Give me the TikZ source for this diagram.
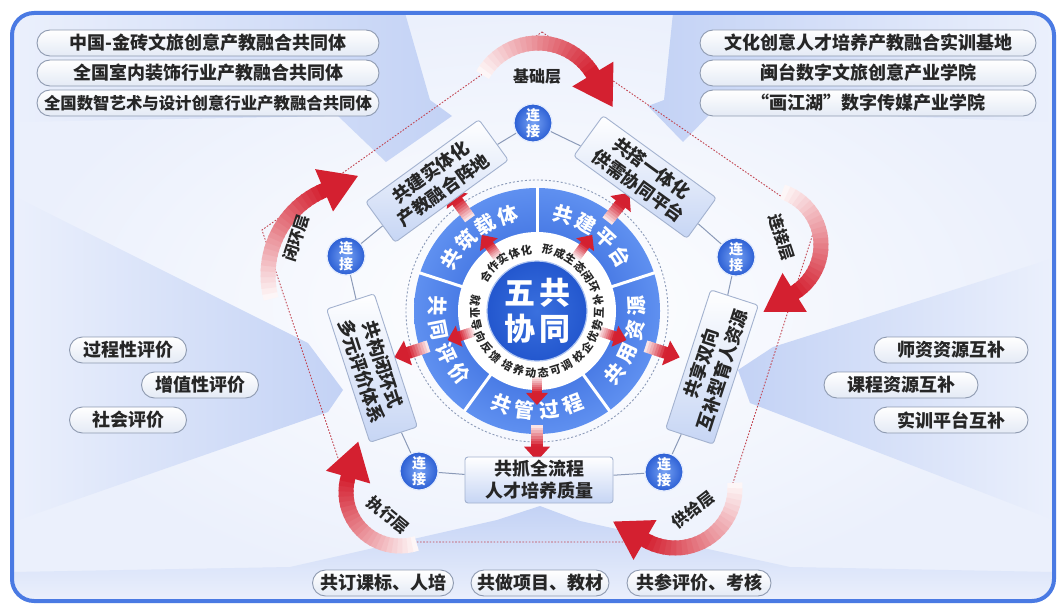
\documentclass[tikz,border=0pt]{standalone}
\usepackage{fontspec}
\setmainfont{Noto Sans CJK SC}
\usetikzlibrary{calc,shapes.misc,positioning}

\definecolor{frameblue}{HTML}{4A7AE3}
\definecolor{lav}{HTML}{C3D2F5}
\definecolor{lavlight}{HTML}{EBF0FC}
\definecolor{ringin}{HTML}{2558D3}
\definecolor{ringout}{HTML}{5F90F0}
\definecolor{corein}{HTML}{3A70DE}
\definecolor{coreout}{HTML}{2357CE}
\definecolor{arrowred}{HTML}{D42030}
\definecolor{dotred}{HTML}{C24450}
\definecolor{textdark}{HTML}{262626}
\definecolor{pillgray}{HTML}{8E9AB0}
\definecolor{pillfill}{HTML}{E4EAF5}
\definecolor{boxedge}{HTML}{A3B2CF}
\definecolor{boxfill}{HTML}{C6D5F4}
\definecolor{linkgray}{HTML}{8B9AB8}
\definecolor{linkin}{HTML}{77A2F4}
\definecolor{linkout}{HTML}{2C5FD4}

\newcommand\fpill{\fontsize{18}{20}\selectfont\bfseries}
\newcommand\fkbox{\fontsize{18}{22}\selectfont\bfseries}
\newcommand\flink{\fontsize{14}{16}\selectfont\bfseries}
\newcommand\fseg{\fontsize{20}{20}\selectfont\bfseries}
\newcommand\fring{\fontsize{11}{11}\selectfont\bfseries}
\newcommand\fcore{\fontsize{31}{36}\selectfont\bfseries}
\newcommand\flayer{\fontsize{16}{16}\selectfont\bfseries}

% block arrow pointing out of the centre C
\newcommand\radarrow[5]{% angle, r from, r to, shaft half, head half
  \begin{scope}[shift={(C)}, rotate=#1]
    \pgfmathsetmacro\hlen{1.1*#5}
    \pgfmathsetmacro\hbase{#3-\hlen}
    \foreach \k in {0,...,7}{%
      \pgfmathsetmacro\xa{#2+(\hbase-#2)*\k/8}%
      \pgfmathsetmacro\xb{#2+(\hbase-#2)*(\k+1.4)/8}%
      \pgfmathtruncatemacro\pc{12+86*\k/7}%
      \fill[arrowred!\pc!white] (\xa,-#4) rectangle (\xb,#4);
    }
    \fill[arrowred] (\hbase,-#5) -- (#3,0) -- (\hbase,#5) -- cycle;
  \end{scope}}

% curved layer arrow, clockwise
\newcommand\layerarrow[7]{% cx, cy, radius, start, end, width, head half
  \begin{scope}[shift={(#1,#2)}]
    \foreach \k in {0,...,23}{%
      \pgfmathsetmacro\aa{#4+(#5-#4)*\k/24}%
      \pgfmathsetmacro\ab{#4+(#5-#4)*(\k+1.35)/24}%
      \pgfmathtruncatemacro\pc{4+96*\k/23}%
      \draw[arrowred!\pc!white, line width=#6pt] (\aa:#3) arc[start angle=\aa, end angle=\ab, radius=#3];
    }
  \end{scope}
  \begin{scope}[shift={(#1,#2)}, rotate=#5]
    \fill[arrowred] (#3-#7,0) -- (#3+#7,0) -- (#3,-1.6*#7) -- cycle;
  \end{scope}}

% characters set one by one round C
\newcommand\ringtext[6]{% style, radius, start, step, rotation offset, list
  \foreach \ch [count=\i from 0] in {#6}{%
    \pgfmathsetmacro\ang{#3+#4*\i}%
    \node[#1, rotate=\ang+#5] at ($(C)+(\ang:#2)$) {\ch};
  }}

\pgfdeclarelayer{back}
\pgfdeclarelayer{mid}
\pgfsetlayers{back,mid,main}

\begin{document}
\begin{tikzpicture}[
  x=1pt, y=1pt,
  every node/.style={text=textdark},
  pill/.style={rounded rectangle, draw=pillgray, line width=0.9pt, top color=white,
    bottom color=pillfill, font=\fpill, minimum height=26pt, inner ysep=0pt, inner xsep=4pt},
  kbox/.style={rectangle, rounded corners=3pt, draw=boxedge, line width=0.9pt, top color=white,
    bottom color=boxfill, font=\fkbox, align=center, minimum width=140pt, minimum height=50pt, inner sep=2pt},
  lianjie/.style={circle, draw=white!80!linkin, line width=1.2pt, inner color=linkin, outer color=linkout,
    minimum size=38pt, inner sep=0pt, text=white, font=\flink, align=center},
  segtext/.style={text=white, font=\fseg, inner sep=0pt},
  ringtxt/.style={text=textdark, font=\fring, inner sep=0pt},
  layerlab/.style={font=\flayer, text=textdark, inner sep=0pt},
  linkline/.style={draw=linkgray, line width=1pt},
  reddot/.style={draw=dotred, line width=0.9pt, dash pattern=on 1.6pt off 1.6pt},
]
\useasboundingbox (0,0) rectangle (1059,-604);
\coordinate (C) at (537,-311);

%--- frame and light fans
\begin{pgfonlayer}{back}
  \shade[inner color=white, outer color=lavlight, rounded corners=22pt] (12,-13) rectangle (1054,-601);
  \begin{scope}
    \clip[rounded corners=22pt] (12,-13) rectangle (1054,-601);
    \shade[left color=lavlight, right color=lav] (12,-13) -- (405,-13) -- (430,-100) -- (452,-116)
      -- (386,-162) -- (338,-116) -- (12,-122) -- cycle;
    \shade[left color=lav, right color=lavlight] (1054,-13) -- (673,-13) -- (664,-100) -- (648,-106)
      -- (683,-142) -- (714,-110) -- (1054,-122) -- cycle;
    \shade[left color=lavlight, right color=lav] (12,-195) -- (308,-343) -- (343,-390) -- (328,-412)
      -- (12,-522) -- cycle;
    \shade[left color=lav, right color=lavlight] (1054,-258) -- (773,-347) -- (738,-370) -- (750,-403)
      -- (1054,-520) -- cycle;
    \shade[top color=lav, bottom color=lavlight] (497,-520) -- (540,-506) -- (580,-521) -- (790,-567)
      -- (1054,-572) -- (1054,-601) -- (12,-601) -- (12,-572) -- (290,-567) -- cycle;
  \end{scope}
  \draw[frameblue, line width=4pt, rounded corners=22pt] (12,-13) rectangle (1054,-601);
\end{pgfonlayer}

%--- dotted pentagon and layer arrows
\begin{pgfonlayer}{mid}
  \coordinate (p1) at (542,-32);
  \coordinate (p2) at (817,-221);
  \coordinate (p3) at (714,-542);
  \coordinate (p4) at (366,-542);
  \coordinate (p5) at (262,-230);
  \draw[reddot] (p1) -- (p2) -- (p3) -- (p4) -- (p5) -- cycle;

  \layerarrow{538}{-107}{64}{150}{31}{15}{24}
  \layerarrow{765}{-245}{56}{72}{-58}{15}{23}
  \layerarrow{675}{-488}{60}{5}{-120}{15}{23}
  \layerarrow{400}{-492}{54}{-72}{-196}{15}{23}
  \layerarrow{360}{-275}{92}{195}{113}{15}{23}
\end{pgfonlayer}

%--- centre wheel
\draw[draw=linkgray, line width=0.9pt, dash pattern=on 2pt off 2pt] (C) circle (131);
\shade[inner color=ringin, outer color=ringout] (C) circle (123);
\fill[white] (C) circle (79);
\foreach \a in {90,18,-54,-126,162}
  \draw[white, line width=3pt] ($(C)+(\a:78)$) -- ($(C)+(\a:124)$);
\shade[inner color=corein, outer color=coreout] (C) circle (50);
\draw[white!60!corein, line width=1.2pt] (C) circle (50);
\node[text=white, font=\fcore, align=center] (core) at (C) {五\hspace{4pt}共\\协\hspace{4pt}同};

\foreach \a in {126,54,-18,-90,198}{\radarrow{\a}{66}{94}{5}{11}}

\ringtext{segtext}{100}{149}{-14}{-90}{共,筑,载,体}
\ringtext{segtext}{100}{75}{-14}{-90}{共,建,平,台}
\ringtext{segtext}{100}{-39}{14}{90}{共,用,资,源}
\ringtext{segtext}{100}{-111}{14}{90}{共,管,过,程}
\ringtext{segtext}{100}{177}{14}{90}{共,同,评,价}

\ringtext{ringtxt}{62}{146}{-11.5}{-90}{合,作,实,体,化}
\ringtext{ringtxt}{62}{80}{-11.5}{-90}{形,成,生,态,闭,环}
\ringtext{ringtxt}{62}{-47.5}{11.5}{90}{校,企,优,势,互,补}
\ringtext{ringtxt}{62}{-118.75}{11.5}{90}{培,养,动,态,可,调}
\ringtext{ringtxt}{62}{170}{11.5}{90}{就,业,导,向,反,馈}

\foreach \a in {126,52,-18,-90,198}{\radarrow{\a}{114}{150}{6}{13}}

%--- five boxes
\node[kbox, rotate=36]  (b1) at (437,-181) {共建实体化\\产教融合阵地};
\node[kbox, rotate=-36] (b2) at (645,-177) {共搭一体化\\供需协同平台};
\node[kbox, rotate=72, minimum width=146pt] (b3) at (712,-367) {共享双向\\互补型育人资源};
\node[kbox, minimum width=148pt, minimum height=46pt] (b4) at (539,-480) {共抓全流程\\人才培养质量};
\node[kbox, rotate=-72] (b5) at (372,-368) {共构闭环式\\多元评价体系};

%--- link balls
\node[lianjie] (l1) at (533,-123) {连\\接};
\node[lianjie] (l2) at (736,-257) {连\\接};
\node[lianjie] (l3) at (664,-472) {连\\接};
\node[lianjie] (l4) at (419,-471) {连\\接};
\node[lianjie] (l5) at (346,-256) {连\\接};

\begin{pgfonlayer}{mid}
  \draw[linkline] (l1) -- (b1);
  \draw[linkline] (l1) -- (b2);
  \draw[linkline] (l2) -- (b2);
  \draw[linkline] (l2) -- (b3);
  \draw[linkline] (l3) -- (b3);
  \draw[linkline] (l3) -- (b4);
  \draw[linkline] (l4) -- (b4);
  \draw[linkline] (l4) -- (b5);
  \draw[linkline] (l5) -- (b5);
  \draw[linkline] (l5) -- (b1);
\end{pgfonlayer}

%--- layer labels
\node[layerlab] (lyjc) at (537,-77) {基础层};
\node[layerlab, rotate=-72] (lylj) at (782,-237) {连接层};
\node[layerlab, rotate=38] (lygj) at (693,-510) {供给层};
\node[layerlab, rotate=-40] (lyzx) at (388,-515) {执行层};
\node[layerlab, rotate=72] (lybh) at (296,-238) {闭环层};

%--- pills
\node[pill, minimum width=350pt] (tl1) at (208,-43) {中国-金砖文旅创意产教融合共同体};
\node[pill, minimum width=350pt] (tl2) at (208,-73) {全国室内装饰行业产教融合共同体};
\node[pill, minimum width=350pt, font=\fontsize{16.4}{18}\selectfont\bfseries] (tl3) at (208,-103) {全国数智艺术与设计创意行业产教融合共同体};
\node[pill, minimum width=344pt] (tr1) at (868,-43) {文化创意人才培养产教融合实训基地};
\node[pill, minimum width=344pt] (tr2) at (868,-73) {闽台数字文旅创意产业学院};
\node[pill, minimum width=344pt] (tr3) at (868,-103) {“画江湖”数字传媒产业学院};

\node[pill, minimum width=125pt] (lf1) at (128,-350) {过程性评价};
\node[pill, minimum width=125pt] (lf2) at (200,-385) {增值性评价};
\node[pill, minimum width=125pt] (lf3) at (128,-420) {社会评价};

\node[pill, minimum width=162pt] (rt1) at (951,-350) {师资资源互补};
\node[pill, minimum width=162pt] (rt2) at (901,-385) {课程资源互补};
\node[pill, minimum width=162pt] (rt3) at (951,-420) {实训平台互补};

\node[pill, minimum width=149pt] (bt1) at (383,-583) {共订课标、人培};
\node[pill, minimum width=146pt] (bt2) at (540,-583) {共做项目、教材};
\node[pill, minimum width=152pt] (bt3) at (699,-583) {共参评价、考核};
\end{tikzpicture}
\end{document}
